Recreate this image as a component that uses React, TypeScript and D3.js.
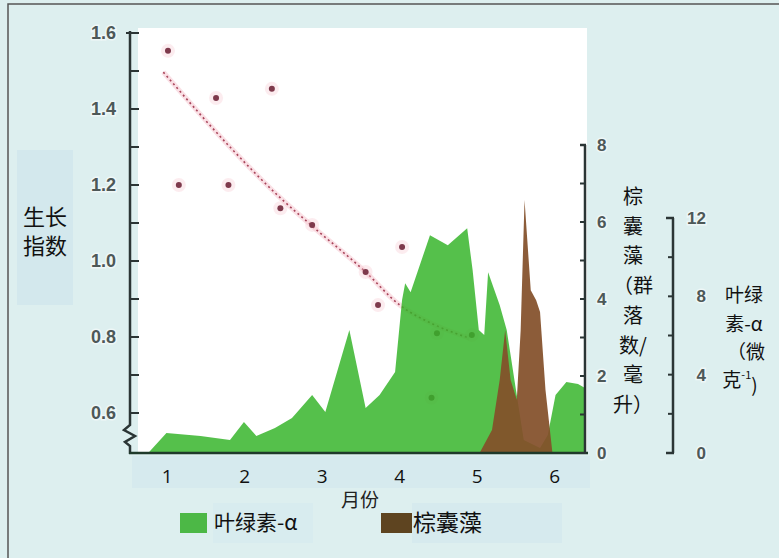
import React from 'react';
import * as d3 from 'd3';

// x positions in months
const monthTicks = [1, 2, 3, 4, 5, 6];
const growthTicks = [0.6, 0.8, 1.0, 1.2, 1.4, 1.6];
const brownTicks = [0, 2, 4, 6, 8];
const chlTicks = [0, 4, 8, 12];

const growthMonth = [1.01, 1.15, 1.63, 1.79, 2.35, 2.46, 2.87, 3.56, 3.72, 4.03, 4.41, 4.48, 4.93];
const growthIndex = [1.553, 1.2, 1.429, 1.2, 1.453, 1.139, 1.095, 0.971, 0.884, 1.037, 0.64, 0.81, 0.805];

const trendMonth = [0.95, 1.81, 2.46, 2.87, 3.56, 4.0, 4.45, 4.9];
const trendIndex = [1.497, 1.3, 1.166, 1.092, 0.971, 0.884, 0.832, 0.797];

const chlMonth = [0.755, 0.99, 1.43, 1.81, 1.99, 2.15, 2.39, 2.61, 2.87, 3.04, 3.35, 3.56, 3.74, 3.94, 4.03, 4.07, 4.14, 4.39, 4.62, 4.87, 4.94, 5.02, 5.09, 5.14, 5.29, 5.38, 5.5, 5.6, 5.81, 5.91, 6.01, 6.15, 6.3, 6.39];
const chlValue = [0, 1.02, 0.87, 0.66, 1.58, 0.87, 1.28, 1.79, 2.96, 2.09, 6.28, 2.3, 2.96, 4.13, 7.81, 8.67, 8.21, 11.12, 10.61, 11.48, 9.34, 6.28, 6.02, 9.23, 7.55, 6.28, 3.21, 0.66, 0.26, 0.92, 2.96, 3.62, 3.52, 3.32];

const brownMonth = [5.03, 5.19, 5.29, 5.36, 5.43, 5.51, 5.56, 5.61, 5.69, 5.76, 5.81, 5.88, 5.97];
const brownValue = [0, 0.6, 1.9, 3.19, 1.9, 1.38, 3.19, 6.57, 4.23, 3.97, 3.66, 1.64, 0];

const CJK = '"Noto Sans CJK SC", sans-serif';
const NUM = '"Liberation Sans", Arial, sans-serif';

export default function App() {
  const x = d3.scaleLinear().domain([0.52, 6.39]).range([130, 585]);
  const yG = d3.scaleLinear().domain([0.6, 1.6]).range([413, 33]);
  const yB = d3.scaleLinear().domain([0, 8]).range([453, 145]);
  const yC = d3.scaleLinear().domain([0, 12]).range([453, 218]);

  const chlArea = d3.area<number>()
    .x((d, i) => x(chlMonth[i]))
    .y0(yC(0))
    .y1(d => yC(d))(chlValue);

  const brownArea = d3.area<number>()
    .x((d, i) => x(brownMonth[i]))
    .y0(yB(0))
    .y1(d => yB(d))(brownValue);

  const trend = d3.line<number>()
    .x((d, i) => x(trendMonth[i]))
    .y(d => yG(d))
    .curve(d3.curveMonotoneX)(trendIndex);

  const growthMinor = d3.range(0.6, 1.61, 0.1);
  const brownMinor = d3.range(0, 9, 1);
  const chlMinor = d3.range(0, 13, 2);

  const axisColor = '#2b3535';
  const rightLabel = ['棕', '囊', '藻', '（群', '落', '数/', '毫', '升）'];

  return (
    <svg width={779} height={558} style={{ position: 'absolute', left: 0, top: 0 }}>
      <rect x={0} y={0} width={779} height={558} fill="#ddefef" />
      <rect x={8} y={4} width={790} height={580} fill="none" stroke="#555" strokeWidth={1.5} />

      {/* label panels */}
      <rect x={17} y={150} width={56} height={155} fill="#d3e8ed" />
      <rect x={132} y={456} width={458} height={32} fill="#d6eaee" />
      <rect x={213} y={503} width={100} height={40} fill="#d8ecef" />
      <rect x={412} y={503} width={150} height={40} fill="#d6eaee" />

      {/* plot background */}
      <rect x={138} y={28} width={449} height={425} fill="#ffffff" />

      {/* trend line and growth index points */}
      <path d={trend ?? ''} fill="none" stroke="#f6c2cc" strokeWidth={5} opacity={0.5} />
      <path d={trend ?? ''} fill="none" stroke="#a8445a" strokeWidth={1.6} strokeDasharray="2,3" />
      {growthIndex.map((g, i) => (
        <g key={i}>
          <circle cx={x(growthMonth[i])} cy={yG(g)} r={7} fill="#f7c9d2" opacity={0.35} />
          <circle cx={x(growthMonth[i])} cy={yG(g)} r={3} fill="#7e3a4c" />
        </g>
      ))}

      {/* chlorophyll area */}
      <path d={chlArea ?? ''} fill="#34b428" fillOpacity={0.84} />
      {/* brown algae area */}
      <path d={brownArea ?? ''} fill="#83502a" fillOpacity={0.93} />

      {/* left axis */}
      <path
        d={`M130,${yG(1.6) - 2} L130,425 L124,430 L135,436 L125,442 L130,446 L130,454`}
        fill="none" stroke={axisColor} strokeWidth={2.5}
      />
      {growthMinor.map((t, i) => (
        <line key={i} x1={t > 1.55 ? 126 : 130} x2={139} y1={yG(t)} y2={yG(t)} stroke={axisColor} strokeWidth={2} />
      ))}
      {growthTicks.map(t => (
        <text key={t} x={116} y={yG(t)} dy="0.35em" textAnchor="end" fontFamily={NUM} fontWeight="bold"
          fontSize={18} fill="#4d5858" stroke="#eef7f7" strokeWidth={3} paintOrder="stroke">
          {t.toFixed(1)}
        </text>
      ))}

      {/* x axis */}
      <line x1={129} x2={588} y1={453} y2={453} stroke="#1f3a2a" strokeWidth={2.5} />
      {monthTicks.map(m => (
        <text key={m} x={x(m)} y={476} dy="0.35em" textAnchor="middle" fontFamily={'"Open Sans", sans-serif'}
          fontSize={19} fill="#111">
          {m}
        </text>
      ))}
      <text x={360} y={500} dy="0.35em" textAnchor="middle" fontFamily={CJK} fontSize={19} fill="#222">月份</text>

      {/* brown algae axis */}
      <line x1={585} x2={585} y1={yB(8)} y2={454} stroke={axisColor} strokeWidth={2.5} />
      <line x1={580} x2={586} y1={yB(8)} y2={yB(8)} stroke={axisColor} strokeWidth={2.5} />
      {brownMinor.map(t => (
        <line key={t} x1={580} x2={585} y1={yB(t)} y2={yB(t)} stroke={axisColor} strokeWidth={2} />
      ))}
      {brownTicks.map(t => (
        <text key={t} x={597} y={yB(t)} dy="0.35em" fontFamily={NUM} fontWeight="bold" fontSize={17}
          fill="#4d5858" stroke="#eef7f7" strokeWidth={3} paintOrder="stroke">
          {t}
        </text>
      ))}

      {/* chlorophyll axis */}
      <line x1={673} x2={673} y1={yC(12)} y2={yC(0)} stroke={axisColor} strokeWidth={2.5} />
      <line x1={666} x2={674} y1={yC(12)} y2={yC(12)} stroke={axisColor} strokeWidth={2.5} />
      <line x1={666} x2={674} y1={yC(0)} y2={yC(0)} stroke={axisColor} strokeWidth={2.5} />
      {chlMinor.map(t => (
        <line key={t} x1={668} x2={673} y1={yC(t)} y2={yC(t)} stroke={axisColor} strokeWidth={2} />
      ))}
      {chlTicks.map(t => (
        <text key={t} x={706} y={yC(t)} dy="0.35em" textAnchor="end" fontFamily={NUM} fontWeight="bold"
          fontSize={17} fill="#4d5858" stroke="#eef7f7" strokeWidth={3} paintOrder="stroke">
          {t}
        </text>
      ))}

      {/* axis titles */}
      <text x={45} y={217} dy="0.35em" textAnchor="middle" fontFamily={CJK} fontSize={22} fill="#111">生长</text>
      <text x={45} y={246} dy="0.35em" textAnchor="middle" fontFamily={CJK} fontSize={22} fill="#111">指数</text>

      {rightLabel.map((s, i) => (
        <text key={i} x={633} y={197 + i * 29.7} dy="0.35em" textAnchor="middle" fontFamily={CJK}
          fontSize={20} fill="#111">
          {s}
        </text>
      ))}

      <text x={744} y={295} dy="0.35em" textAnchor="middle" fontFamily={CJK} fontSize={19} fill="#111">叶绿</text>
      <text x={744} y={324} dy="0.35em" textAnchor="middle" fontFamily={CJK} fontSize={19} fill="#111">素-α</text>
      <text x={746} y={352} dy="0.35em" textAnchor="middle" fontFamily={CJK} fontSize={19} fill="#111">（微</text>
      <text x={740} y={380} dy="0.35em" textAnchor="middle" fontFamily={CJK} fontSize={19} fill="#111">
        克<tspan fontSize={11} dy="-0.7em">-1</tspan><tspan dy="0.7em">)</tspan>
      </text>

      {/* legend */}
      <rect x={180} y={513} width={27} height={20} fill="#4cb846" />
      <text x={214} y={523} dy="0.35em" fontFamily={CJK} fontSize={21} fill="#111">叶绿素-α</text>
      <rect x={381} y={513} width={31} height={20} fill="#5e4420" />
      <text x={413} y={523} dy="0.35em" fontFamily={CJK} fontSize={23} fill="#111">棕囊藻</text>
    </svg>
  );
}
